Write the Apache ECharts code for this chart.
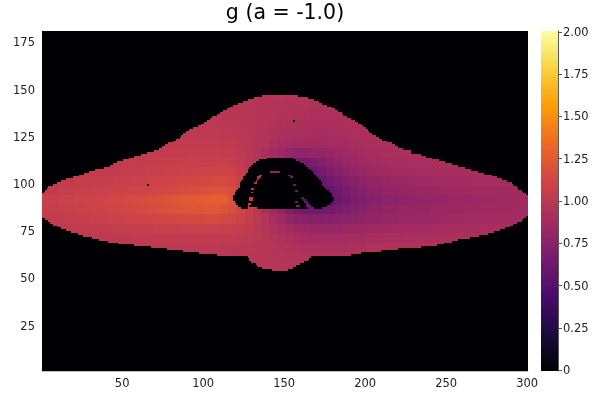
<!DOCTYPE html>
<html><head><meta charset="utf-8">
<style>html,body{margin:0;padding:0;background:#fff}#c{width:600px;height:400px}</style>
<script src="https://cdn.jsdelivr.net/npm/echarts@6/dist/echarts.min.js"></script>
</head><body><div id="c"></div>
<script>
// Values x100, one block per 5 columns, rows named by centre y
const v145=[100,100,100,100,100,100,100,100,100,100,99,99,99,99,99,99,99,99,99,99,98,98,98,98,98,98,97,97,97,97,96,96,96,95,95,95,95,95,94,94,94,94,94,94,94,94,94,94,94,94,94,94,94,94,94,94,94,94,94,94];
const v140=[100,100,100,100,100,100,100,100,100,100,100,100,100,100,99,99,99,99,99,99,99,99,99,98,98,98,97,97,96,96,95,95,95,94,94,94,94,94,94,94,94,94,94,94,94,94,94,94,94,94,94,94,94,94,94,94,94,94,94,94];
const v135=[101,101,101,101,101,101,101,101,101,101,101,101,101,101,100,100,100,100,100,100,100,100,99,99,99,98,97,97,96,95,95,94,94,93,93,93,93,93,94,94,94,94,94,94,94,94,94,94,94,94,94,94,94,94,94,94,94,94,94,94];
const v130=[101,101,101,101,101,101,101,101,101,101,102,102,102,102,102,102,102,101,101,101,101,101,100,100,99,98,97,96,95,94,93,93,92,92,92,92,92,93,93,93,94,94,94,94,94,94,94,94,94,94,93,93,93,93,93,93,93,93,93,93];
const v125=[102,102,102,102,102,102,102,102,102,102,102,102,102,102,102,102,102,102,102,102,102,102,101,101,100,99,97,96,94,93,92,91,91,90,90,90,91,91,92,92,93,93,93,93,93,93,93,93,93,93,92,92,92,92,92,92,92,92,92,92];
const v120=[102,102,102,102,102,102,102,102,102,102,103,103,103,103,103,103,103,103,103,103,103,103,102,102,101,99,97,95,92,90,88,87,87,87,87,88,88,89,90,91,92,92,92,92,92,92,92,92,92,92,92,92,92,92,92,92,92,92,92,92];
const v115=[102,102,102,102,102,102,102,102,102,102,103,103,103,104,104,104,104,104,105,105,105,105,104,104,102,99,96,92,88,85,80,78,78,79,80,82,84,86,87,89,90,90,91,91,92,92,92,92,92,92,92,92,92,92,92,92,92,92,92,92];
const v110=[102,102,102,102,102,102,102,103,103,103,104,104,105,105,106,106,106,107,107,107,107,107,107,106,103,99,95,90,85,78,72,67,66,68,72,75,79,82,84,86,87,88,89,90,90,91,91,91,91,92,92,92,92,92,92,92,92,92,92,92];
const v105=[102,102,103,103,103,103,104,104,104,105,105,106,106,107,107,108,108,109,109,110,110,111,111,109,105,100,95,88,80,72,64,60,58,60,65,69,73,77,80,82,84,85,86,87,88,88,89,89,90,90,90,90,91,91,91,91,91,91,91,91];
const v100=[103,103,104,104,105,105,106,106,106,107,107,108,108,109,110,110,111,112,113,113,114,115,115,112,107,102,95,88,80,72,64,60,57,56,59,63,67,71,74,77,79,81,82,83,84,85,86,86,87,87,88,88,88,89,89,89,89,89,89,89];
const v95=[105,105,106,106,107,107,108,108,109,109,110,110,111,112,113,114,115,116,117,118,119,120,120,116,110,104,97,89,82,74,66,60,56,54,55,58,62,66,70,73,75,77,78,79,81,82,83,84,84,85,85,86,86,87,87,87,87,87,87,87];
const v90=[107,107,108,108,109,110,110,111,112,113,114,115,116,117,119,120,122,123,124,125,126,127,126,120,113,106,98,90,83,74,66,60,55,52,52,56,60,64,68,71,73,75,76,77,78,79,80,81,82,82,83,83,84,84,85,85,86,86,86,87];
const v85=[106,106,107,107,108,109,110,110,111,112,113,114,115,116,117,119,120,121,122,122,123,123,121,118,113,106,100,93,86,79,72,67,63,62,62,64,67,70,72,74,76,77,78,79,80,81,82,82,83,83,84,84,85,85,86,86,86,86,87,87];
const v80=[104,104,105,105,106,106,107,107,108,108,109,110,110,111,112,113,113,114,114,114,115,115,114,112,109,105,101,96,91,86,81,77,74,73,73,74,75,76,77,78,80,81,82,82,83,83,84,84,85,85,86,86,87,87,88,88,88,88,88,88];
const v75=[102,102,102,103,103,104,104,104,105,105,105,106,106,106,107,107,107,108,108,108,108,108,107,106,105,103,100,97,94,91,88,85,83,82,82,82,82,83,84,84,85,86,86,87,87,88,88,88,89,89,90,90,90,90,91,91,91,91,91,91];
const v70=[101,101,101,101,101,101,102,102,102,102,102,103,103,103,103,103,103,103,103,103,103,103,103,103,102,101,100,98,96,94,92,90,89,88,88,88,88,88,89,89,90,90,91,91,91,92,92,92,92,93,93,93,93,93,93,93,93,93,93,93];
const v65=[101,101,101,101,101,101,101,101,101,101,101,101,101,101,101,101,101,101,101,101,101,101,100,100,100,100,99,98,97,96,95,94,93,93,92,92,92,92,93,93,94,94,94,94,94,94,94,94,94,94,94,94,94,94,94,94,94,94,94,94];
const v60=[100,100,100,100,100,100,100,100,100,100,100,100,100,100,100,100,100,100,100,100,100,100,100,100,99,99,98,98,97,97,96,96,95,95,95,95,95,95,95,95,95,95,95,95,95,95,95,95,95,95,95,95,95,95,95,95,95,95,95,95];
const v55=[100,100,100,100,100,100,100,100,100,100,100,100,100,100,100,100,100,100,100,100,100,100,100,100,99,99,98,98,98,97,97,97,96,96,96,96,96,96,96,96,96,96,96,96,96,96,96,96,96,96,96,96,96,96,96,96,96,96,96,96];
const v50=v55;
const blockRows={50:v50,55:v55,60:v60,65:v65,70:v70,75:v75,80:v80,85:v85,90:v90,95:v95,100:v100,105:v105,110:v110,115:v115,120:v120,125:v125,130:v130,135:v135,140:v140,145:v145};

// Outer edge of the coloured shape, one [row, first column, last column]
const outerSpans=[[53,142,151],[54,136,154],[55,133,156],[56,132,158],[57,129,161],[58,128,163],[59,128,164],[60,127,165],[61,108,190],[62,97,196],[63,87,208],[64,77,219],[65,67,233],[66,57,243],[67,47,247],[68,41,252],[69,35,256],[70,31,263],[71,25,269],[72,22,274],[73,18,278],[74,15,282],[75,12,285],[76,10,288],[77,7,290],[78,5,292],[79,4,295],[80,2,296],[81,0,298],[82,0,299],[83,0,299],[84,0,299],[85,0,299],[86,0,299],[87,0,299],[88,0,299],[89,0,299],[90,0,299],[91,0,299],[92,0,299],[93,0,298],[94,1,296],[95,2,295],[96,3,293],[97,4,292],[98,7,290],[99,9,289],[100,12,286],[101,15,283],[102,19,280],[103,23,277],[104,26,272],[105,29,268],[106,33,264],[107,38,260],[108,42,256],[109,44,252],[110,46,248],[111,50,244],[112,54,240],[113,57,236],[114,61,233],[115,65,227],[116,69,227],[117,72,222],[118,74,219],[119,76,217],[120,78,215],[121,81,212],[122,83,209],[123,85,207],[124,86,205],[125,87,203],[126,89,201],[127,91,200],[128,93,199],[129,96,197],[130,98,196],[131,100,194],[132,102,192],[133,104,190],[134,105,187],[135,108,185],[136,110,184],[137,112,182],[138,114,180],[139,116,178],[140,118,175],[141,121,172],[142,124,170],[143,127,167],[144,131,163],[145,136,157]];

// Zero-valued runs inside the shape: [row, first column, last column]
const zeroSpans=[[112,139,154],[111,134,156],[110,132,158],[109,130,161],[108,129,162],[107,128,163],[106,127,165],[105,127,166],[104,126,167],[103,125,168],[102,124,169],[101,124,170],[100,123,171],[99,122,172],[98,122,172],[97,122,173],[96,121,174],[95,120,176],[94,119,177],[93,119,178],[92,118,178],[91,118,179],[90,118,179],[89,119,178],[88,120,177],[87,121,126],[87,128,162],[87,166,175],[86,123,126],[86,133,163],[86,168,172],[98,65,65],[132,155,155],[62,92,92]];

// Non-zero cells inside the zero region: [row, first column, last column]
const innerSpots=[[105,141,146],[103,134,135],[102,133,134],[101,133,133],[100,132,132],[99,131,132],[96,129,130],[94,129,129],[91,128,129],[90,128,129],[88,127,128],[103,152,153],[102,153,154],[98,155,156],[95,156,157],[89,156,157],[87,157,158],[91,160,161],[90,161,162],[89,162,163],[88,163,164],[87,164,165],[86,165,167]];

const xCategories=[];for(let i=1;i<=300;i++)xCategories.push(String(i));
const yCategories=[];for(let i=1;i<=180;i++)yCategories.push(String(i));
const barLevels=[];for(let i=0;i<=200;i++)barLevels.push(i/100);
const barTicks=["0","0.25","0.50","0.75","1.00","1.25","1.50","1.75","2.00"];
const titleText="g (a = -1.0)";
const inferno=['#000004','#1b0c41','#4a0c6b','#781c6d','#a52c60','#cf4446','#ed6925','#fb9b06','#f7d13d','#fcffa4'];

const cells=new Float32Array(54000);
for(const [r,a,b] of outerSpans){
  const block=blockRows[Math.round(r/5)*5]||v50;
  for(let c=a;c<=b;c++)cells[r*300+c]=block[Math.floor(c/5)]/100;
}
for(const [r,a,b] of zeroSpans)for(let c=a;c<=b;c++)cells[r*300+c]=0;
for(const [r,a,b] of innerSpots){
  const block=blockRows[Math.round(r/5)*5];
  for(let c=a;c<=b;c++)cells[r*300+c]=block[Math.floor(c/5)]/100;
}
const heat=[];
for(let r=0;r<180;r++)for(let c=0;c<300;c++)heat.push([c,r,cells[r*300+c]]);

// One snapped rectangle per cell, sized by the axis bands, so neighbouring cells leave no seam
function cellItem(params,api){
  const p=api.coord([api.value(0),api.value(1)]);
  const s=api.size([1,1]);
  const x0=Math.round(p[0]-s[0]/2),x1=Math.round(p[0]+s[0]/2);
  const y0=Math.round(p[1]-s[1]/2),y1=Math.round(p[1]+s[1]/2);
  return {type:'rect',shape:{x:x0,y:y0,width:x1-x0,height:y1-y0},style:{fill:api.visual('color')}};
}

const font='"DejaVu Sans"';
const labelBase={fontFamily:font,fontSize:11.5,color:'#222'};
const chart=echarts.init(document.getElementById('c'),null,{renderer:'canvas'});
chart.setOption({
  animation:false,backgroundColor:'#fff',
  title:{text:titleText,left:280,top:-2,textAlign:'center',textStyle:{fontFamily:font,fontSize:20.5,fontWeight:'normal',color:'#000'}},
  grid:[{left:42,top:31,width:486,height:340},{left:541,top:31,width:17,height:340}],
  xAxis:[
    {type:'category',gridIndex:0,data:xCategories,axisLine:{lineStyle:{color:'#bdbdbd',width:1}},axisTick:{show:false},splitLine:{show:false},
     axisLabel:Object.assign({interval:i=>(i+1)%50===0,margin:7},labelBase)},
    {type:'category',gridIndex:1,data:['bar'],axisLine:{show:false},axisTick:{show:false},axisLabel:{show:false},splitLine:{show:false}}
  ],
  yAxis:[
    {type:'category',gridIndex:0,data:yCategories,axisLine:{lineStyle:{color:'#bdbdbd',width:1}},axisTick:{show:false},splitLine:{show:false},
     axisLabel:Object.assign({interval:i=>(i+1)%25===0,margin:7,verticalAlign:'top',lineHeight:4},labelBase)},
    {type:'category',gridIndex:1,position:'right',data:barLevels.map(String),
     axisLine:{show:true,lineStyle:{color:'#555',width:1}},
     axisTick:{show:true,length:4,alignWithLabel:true,interval:i=>i%25===0,lineStyle:{color:'#555',width:1}},
     splitLine:{show:false},
     axisLabel:Object.assign({interval:i=>i%25===0,margin:5,verticalAlign:'top',lineHeight:2,formatter:(v,i)=>barTicks[i/25]},labelBase)}
  ],
  visualMap:{show:false,min:0,max:2,seriesIndex:[0,1],dimension:2,inRange:{color:inferno}},
  series:[
    {type:'custom',renderItem:cellItem,xAxisIndex:0,yAxisIndex:0,data:heat,encode:{x:0,y:1},progressive:0,silent:true,clip:true},
    {type:'custom',renderItem:cellItem,xAxisIndex:1,yAxisIndex:1,data:barLevels.map((v,i)=>[0,i,v]),encode:{x:0,y:1},progressive:0,silent:true,clip:true}
  ]
});
</script></body></html>
